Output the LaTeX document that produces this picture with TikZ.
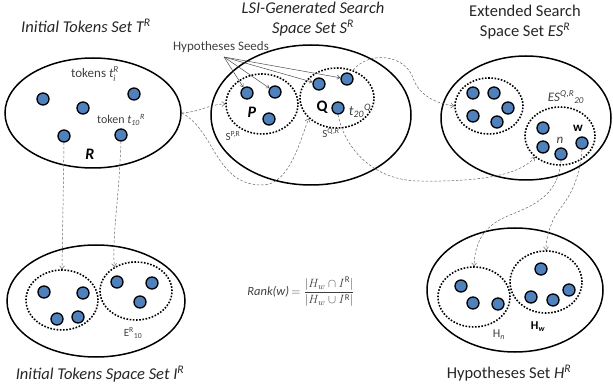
\documentclass[tikz,border=0pt]{standalone}
\usepackage{amsmath}
\usepackage{fontspec}
\setmainfont{Carlito}
\usetikzlibrary{shapes.geometric}
\usetikzlibrary{arrows.meta}
\definecolor{tokblue}{RGB}{79,129,189}
\definecolor{txtgray}{RGB}{64,64,64}

\tikzset{
  bigset/.style={draw, ellipse, line width=1.5pt, inner sep=0pt},
  subset/.style={draw, ellipse, line width=1.6pt, dash pattern=on 1.6pt off 1.6pt, inner sep=0pt},
  tok/.style={circle, draw, fill=tokblue, line width=1.3pt, minimum size=12pt, inner sep=0pt},
  link/.style={black!60, line width=0.5pt, dash pattern=on 2.5pt off 1.8pt, -{Straight Barb[length=3pt,width=5pt]}},
  seed/.style={black!70, line width=0.5pt, -{Straight Barb[length=3pt,width=4pt]}},
  lbl/.style={text=txtgray, font=\fontsize{12}{14}\selectfont, inner sep=0pt},
  title/.style={text=black!85, font=\fontsize{16.5}{20}\selectfont, align=center, inner sep=0pt}
}

\begin{document}
\begin{tikzpicture}[x=1pt, y=-1pt]
		\useasboundingbox (0,0) rectangle (613,390);
		
		%insiemi
		\node[bigset, minimum width=176pt, minimum height=110pt] (T) at (93,113) {};
		\node[bigset, minimum width=200pt, minimum height=140pt] (S) at (311,115) {};
		\node[bigset, minimum width=170pt, minimum height=124pt] (ES) at (526,118) {};
		\node[bigset, minimum width=178pt, minimum height=112pt] (I) at (96,301) {};
		\node[bigset, minimum width=176pt, minimum height=124pt] (H) at (515,290) {};
		
		\node[subset, minimum width=72pt, minimum height=60pt] (P) at (262,104) {};
		\node[subset, minimum width=74pt, minimum height=60pt] (Q) at (337,98) {};
		\node[subset, minimum width=68pt, minimum height=56pt] (Eu) at (489,106) {};
		\node[subset, minimum width=70pt, minimum height=58pt] (El) at (560,136) {};
		\node[subset, minimum width=72pt, minimum height=60pt] (Il) at (62,300) {};
		\node[subset, minimum width=72pt, minimum height=58pt] (Ir) at (136,291) {};
		\node[subset, minimum width=72pt, minimum height=60pt] (Hn) at (474,297) {};
		\node[subset, minimum width=72pt, minimum height=62pt] (Hw) at (546,282) {};
		
		%token
		\foreach \name/\pos in {t1/{(43,99)}, t2/{(83,108)}, t3/{(134,94)}, t4/{(64,136)}, t5/{(121,135)},
		  p1/{(247,93)}, p2/{(275,92)}, p3/{(269,119)}, q1/{(319,84)}, q2/{(347,79)}, q3/{(338,108)},
		  e1/{(473,93)}, e2/{(494,93)}, e3/{(508,108)}, e4/{(473,116)}, e5/{(497,122)},
		  x1/{(543,128)}, x2/{(543,147)}, tn/{(561,154)}, tw/{(582,143)},
		  i1/{(44,292)}, i2/{(83,293)}, i3/{(57,319)}, i4/{(78,317)},
		  j1/{(117,282)}, j2/{(152,283)}, j3/{(140,302)},
		  h1/{(461,286)}, h2/{(473,303)}, h3/{(498,304)},
		  k1/{(541,269)}, k2/{(531,297)}, k3/{(553,300)}, k4/{(569,290)}}
		  \node[tok] (\name) at \pos {};
		
		%nomi
		\node[title, font=\fontsize{16.5}{20}\selectfont\itshape] (tT) at (86,26) {Initial Tokens Set T\textsuperscript{R}};
		\node[title, font=\fontsize{16.5}{20}\selectfont\itshape] (tS) at (313,19) {LSI-Generated Search\\Space Set S\textsuperscript{R}};
		\node[title] (tES) at (525,22) {Extended Search\\Space Set \textit{ES}\textsuperscript{\itshape R}};
		\node[title, font=\fontsize{16.5}{20}\selectfont\itshape] (tI) at (100,374) {Initial Tokens Space Set I\textsuperscript{R}};
		\node[title] (tH) at (509,373) {Hypotheses Set \textit{H}\textsuperscript{\itshape R}};
		
		\node[lbl, font=\fontsize{13}{15}\selectfont] (lti) at (95,74) {tokens $\textit{t}_{\textit{i}}^{\textit{R}}$};
		\node[lbl] (lt10) at (121,120) {token $\textit{t}_{\textit{10}}{}^{\textit{R}}$};
		\node[lbl, text=black, font=\fontsize{16}{18}\selectfont\bfseries\itshape] (lR) at (90,154) {R};
		\node[lbl, text=black, font=\fontsize{16}{18}\selectfont\bfseries\itshape] (lP) at (252,112) {P};
		\node[lbl, text=black, font=\fontsize{16}{18}\selectfont\bfseries] (lQ) at (322,107) {Q};
		\node[lbl, font=\fontsize{11}{13}\selectfont] (lSP) at (233,136) {S\textsuperscript{P,R}};
		\node[lbl, font=\fontsize{11}{13}\selectfont] (lSQ) at (331,133) {S\textsuperscript{Q,R}};
		\node[lbl, font=\fontsize{14}{16}\selectfont] (lt20) at (360,111) {$\textit{t}_{\textit{20}}{}^{\textit{Q}}$};
		\node[lbl, font=\fontsize{13}{15}\selectfont] (lESQ) at (566,97) {$\textit{ES}^{\textit{Q,R}}{}_{\textit{20}}$};
		\node[lbl, font=\fontsize{13}{15}\selectfont\itshape] (ln) at (560,140) {n};
		\node[lbl, text=black, font=\fontsize{13}{15}\selectfont\bfseries] (lw) at (578,128) {w};
		\node[lbl, font=\fontsize{11}{13}\selectfont] (lE10) at (133,333) {E$^{\text{R}}{}_{\text{10}}$};
		\node[lbl, font=\fontsize{12}{14}\selectfont] (lHn) at (499,335) {H$_{\textit{n}}$};
		\node[lbl, text=black, font=\fontsize{12}{14}\selectfont\bfseries] (lHw) at (538,327) {H$_{\textit{w}}$};
		\node[lbl, font=\fontsize{12.5}{15}\selectfont] (rank) at (301,292) {\textit{Rank(w)}\,$=\dfrac{|H_w\cap I^{\mathrm{R}}|}{|H_w\cup I^{\mathrm{R}}|}$};
		\node[lbl, font=\fontsize{13}{15}\selectfont] (lhs) at (221,47) {Hypotheses Seeds};
		
		%frecce
		\coordinate (hs) at (224,57);
		\foreach \dst in {p1,p2,q1,q2}
		  \draw[seed] (hs) -- (\dst);
		
		\draw[link] (T.east) .. controls (200,112) and (210,104) .. (P.west);
		\draw[link] (T.east) .. controls (215,130) and (215,185) .. (262,185)
		  .. controls (290,185) and (300,140) .. (Q.216);
		\draw[link] (t4.south) -- (Il.north);
		\draw[link] (t5.south) .. controls (119,200) and (112,235) .. (Ir.132);
		\draw[link] (Q.60) .. controls (370,50) and (405,55) .. (413,78)
		  .. controls (420,98) and (440,104) .. (Eu.west);
		\draw[link] (q3.south) .. controls (345,150) and (375,181) .. (420,181)
		  .. controls (480,182) and (520,175) .. (El.220);
		\draw[link] (tn.south) .. controls (558,195) and (535,205) .. (510,215)
		  .. controls (485,225) and (475,240) .. (Hn.north);
		\draw[link] (tw.south) .. controls (578,195) and (560,205) .. (553,220)
		  .. controls (548,232) and (546,240) .. (Hw.north);
		
\end{tikzpicture}
\end{document}
